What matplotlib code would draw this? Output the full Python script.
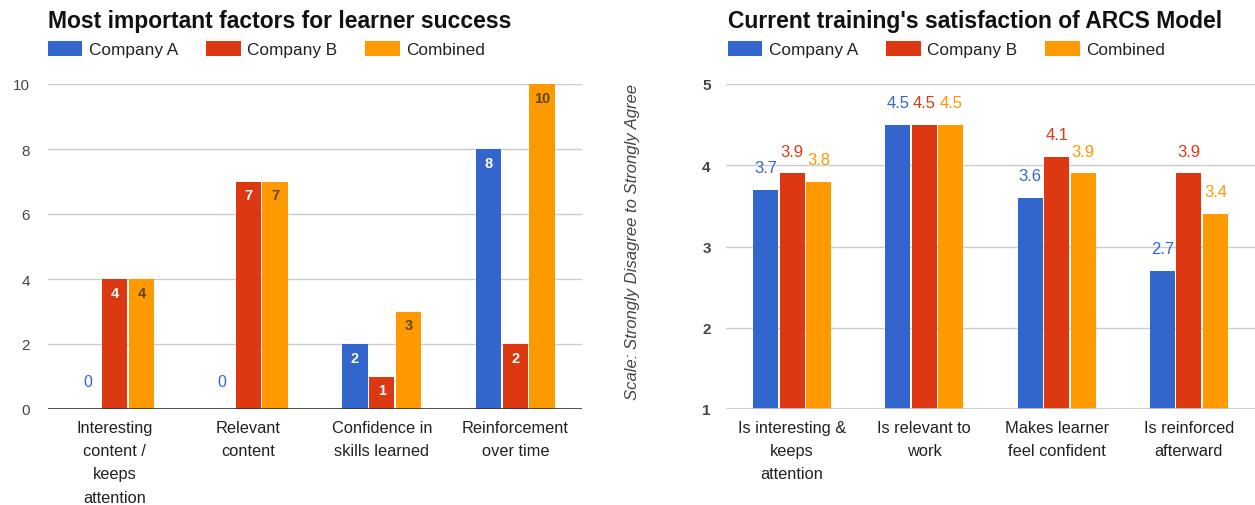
import numpy as np
import matplotlib
matplotlib.use('Agg')
import matplotlib.pyplot as plt

plt.rcParams['font.family'] = ['Liberation Sans', 'DejaVu Sans']

series = ['Company A', 'Company B', 'Combined']
colors = ['#3366cc', '#dc3912', '#ff9900']

# left chart
factors = ['Interesting\ncontent /\nkeeps\nattention', 'Relevant\ncontent',
           'Confidence in\nskills learned', 'Reinforcement\nover time']
factors_a = [0, 0, 2, 8]
factors_b = [4, 7, 1, 2]
factors_comb = [4, 7, 3, 10]

# right chart
arcs = ['Is interesting &\nkeeps\nattention', 'Is relevant to\nwork',
        'Makes learner\nfeel confident', 'Is reinforced\nafterward']
arcs_a = [3.7, 4.5, 3.6, 2.7]
arcs_b = [3.9, 4.5, 4.1, 3.9]
arcs_comb = [3.8, 4.5, 3.9, 3.4]

W, H = 1255, 506
fig = plt.figure(figsize=(W / 100, H / 100), dpi=100)

ax1 = fig.add_axes([48 / W, 1 - 410 / H, 534 / W, 325 / H])
ax2 = fig.add_axes([726 / W, 1 - 410 / H, 529 / W, 325 / H])

bw = 0.19
offs = [-0.2, 0, 0.2]


def style_axes(ax, ticks, ylim, labels, bold_ticks, base_color):
    ax.set_ylim(*ylim)
    ax.set_xlim(-0.5, len(labels) - 0.5)
    ax.set_yticks(ticks)
    ax.set_xticks(range(len(labels)))
    ax.set_xticklabels(labels, fontsize=11.8, color='#222222', linespacing=1.68)
    ax.tick_params(axis='both', length=0)
    ax.tick_params(axis='x', pad=8)
    for t in ax.get_yticklabels():
        t.set_fontsize(11)
        t.set_color('#444444')
        if bold_ticks:
            t.set_fontweight('bold')
    for s in ax.spines.values():
        s.set_visible(False)
    ax.yaxis.grid(True, color='#cccccc', linewidth=1)
    ax.set_axisbelow(True)
    ax.axhline(ylim[0], color=base_color, linewidth=1.2, zorder=3)


# --- left: most important factors ---
x = np.arange(len(factors))
inside_colors = ['white', 'white', '#5e4600']
bars1 = []
for i, vals in enumerate([factors_a, factors_b, factors_comb]):
    b = ax1.bar(x + offs[i], vals, bw, color=colors[i], label=series[i], zorder=2)
    bars1.append(b)
    for xi, v in zip(x, vals):
        if v == 0:
            ax1.annotate(str(v), (xi + offs[i], 0), xytext=(0, 20), textcoords='offset points',
                         ha='center', va='center', color=colors[i], fontsize=11.5)
        else:
            ax1.annotate(str(v), (xi + offs[i], v), xytext=(0, -10), textcoords='offset points',
                         ha='center', va='center', color=inside_colors[i],
                         fontsize=10.5, fontweight='bold')
style_axes(ax1, range(0, 11, 2), (0, 10), factors, False, '#333333')
ax1.tick_params(axis='y', pad=13)

# --- right: ARCS model ---
bars2 = []
for i, vals in enumerate([arcs_a, arcs_b, arcs_comb]):
    b = ax2.bar(x + offs[i], np.array(vals) - 1, bw, bottom=1, color=colors[i],
                label=series[i], zorder=2)
    bars2.append(b)
    for xi, v in zip(x, vals):
        ax2.annotate(f'{v:.1f}', (xi + offs[i], v), xytext=(0, 16), textcoords='offset points',
                     ha='center', va='center', color=colors[i], fontsize=12)
style_axes(ax2, range(1, 6), (1, 5), arcs, True, '#cccccc')
ax2.tick_params(axis='y', pad=11)

# titles and legends
fig.text(48 / W, 1 - 28 / H, 'Most important factors for learner success',
         fontsize=16.5, fontweight='bold', color='#111111', va='baseline')
fig.text(728 / W, 1 - 28 / H, "Current training's satisfaction of ARCS Model",
         fontsize=16.5, fontweight='bold', color='#111111', va='baseline')

for ax, bars, x0 in [(ax1, bars1, 48), (ax2, bars2, 728)]:
    ax.legend(bars, series, ncol=3, loc='center left', frameon=False,
              bbox_to_anchor=(x0 / W, 1 - 50 / H), bbox_transform=fig.transFigure,
              borderpad=0, borderaxespad=0, fontsize=12.4, handlelength=2.0,
              handleheight=0.95, handletextpad=0.4, columnspacing=1.6,
              labelcolor='#222222')

fig.text(632 / W, 1 - 242 / H, 'Scale: Strongly Disagree to Strongly Agree',
         rotation=90, style='italic', color='#444444', fontsize=12,
         ha='center', va='center')

fig.savefig('out.png', dpi=100, facecolor='white')
